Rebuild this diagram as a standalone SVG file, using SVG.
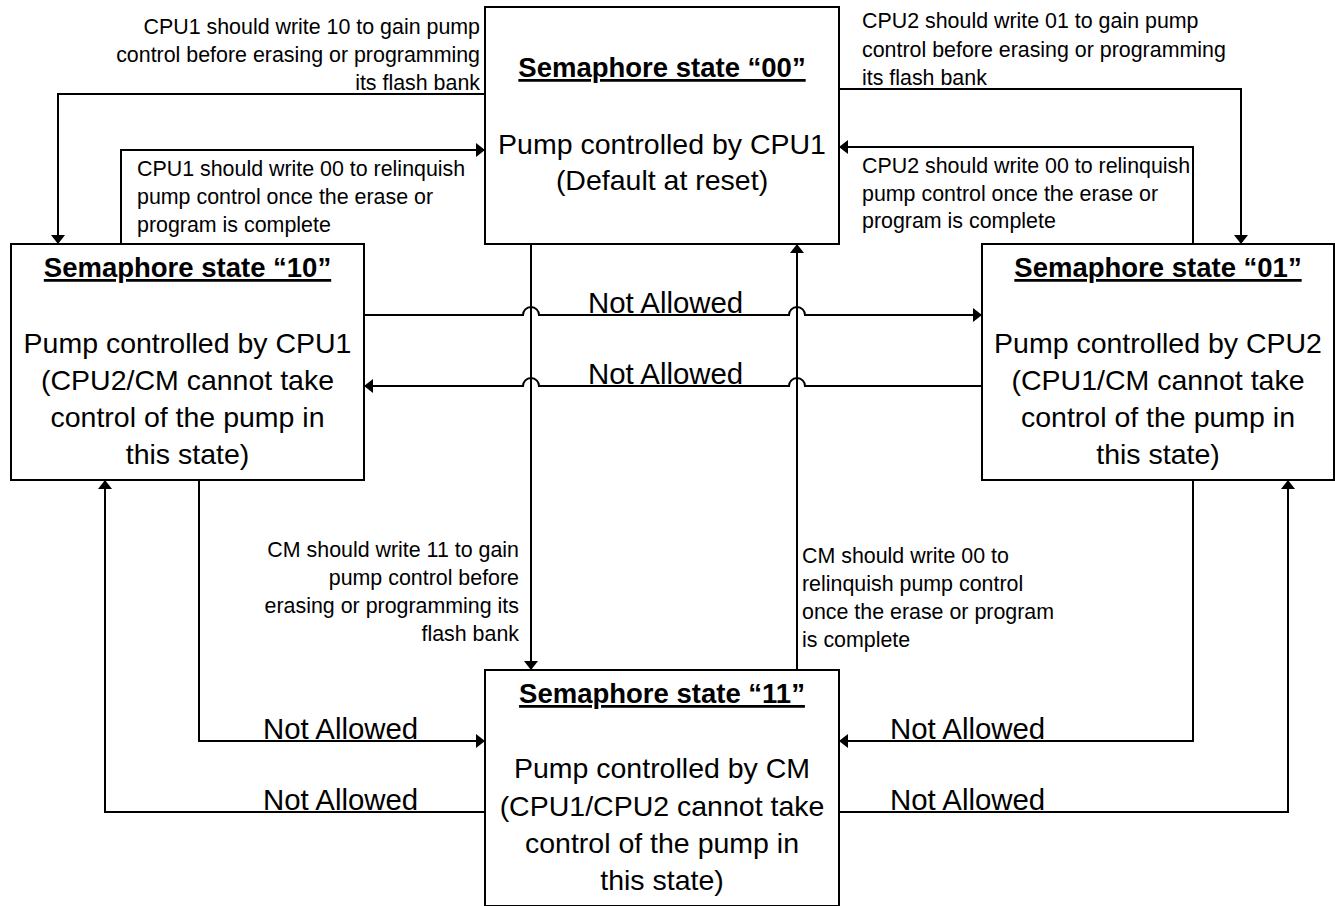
<svg xmlns="http://www.w3.org/2000/svg" width="1335" height="906" viewBox="0 0 1335 906">
<defs>
<style>
.box{fill:#fff;stroke:#000;stroke-width:2}
.c{fill:none;stroke:#000;stroke-width:2}
.h{font-family:"Liberation Sans",Arial,sans-serif;font-weight:bold;font-size:27.5px;text-anchor:middle;text-decoration:underline;fill:#000}
.b{font-family:"Liberation Sans",Arial,sans-serif;font-size:28.5px;text-anchor:middle;fill:#000}
.s{font-family:"Liberation Sans",Arial,sans-serif;font-size:21.4px;fill:#000}
.na{font-family:"Liberation Sans",Arial,sans-serif;font-size:29.4px;fill:#000}
.r{text-anchor:end}
</style>
<marker id="arr" viewBox="0 0 9 14" refX="9" refY="7" markerWidth="9" markerHeight="14" orient="auto" markerUnits="userSpaceOnUse"><path d="M0,0 L9,7 L0,14 z" fill="#000"/></marker>
</defs>
<g id="connectors">
<path class="c" d="M485,94 H58 V244" marker-end="url(#arr)"/>
<path class="c" d="M121,244 V150 H485" marker-end="url(#arr)"/>
<path class="c" d="M839,89 H1241 V244" marker-end="url(#arr)"/>
<path class="c" d="M1193,244 V147 H839" marker-end="url(#arr)"/>
<path class="c" d="M364,315 H523 A8,8 0 0 1 539,315 H789 A8,8 0 0 1 805,315 H982" marker-end="url(#arr)"/>
<path class="c" d="M982,386 H805 A8,8 0 0 0 789,386 H539 A8,8 0 0 0 523,386 H364" marker-end="url(#arr)"/>
<path class="c" d="M531,244 V670" marker-end="url(#arr)"/>
<path class="c" d="M797,670 V244" marker-end="url(#arr)"/>
<path class="c" d="M199,480 V741 H485" marker-end="url(#arr)"/>
<path class="c" d="M485,812 H105 V480" marker-end="url(#arr)"/>
<path class="c" d="M1193,480 V741 H839" marker-end="url(#arr)"/>
<path class="c" d="M839,812 H1288 V480" marker-end="url(#arr)"/>
<text class="s r" x="480"><tspan x="480" y="34">CPU1 should write 10 to gain pump</tspan><tspan x="480" y="62">control before erasing or programming</tspan><tspan x="480" y="90">its flash bank</tspan></text>
<text class="s" x="137"><tspan x="137" y="176">CPU1 should write 00 to relinquish</tspan><tspan x="137" y="204">pump control once the erase or</tspan><tspan x="137" y="232">program is complete</tspan></text>
<text class="s" x="862"><tspan x="862" y="28">CPU2 should write 01 to gain pump</tspan><tspan x="862" y="57">control before erasing or programming</tspan><tspan x="862" y="85">its flash bank</tspan></text>
<text class="s" x="862"><tspan x="862" y="173">CPU2 should write 00 to relinquish</tspan><tspan x="862" y="201">pump control once the erase or</tspan><tspan x="862" y="228">program is complete</tspan></text>
<text class="s r" x="519"><tspan x="519" y="557">CM should write 11 to gain</tspan><tspan x="519" y="585">pump control before</tspan><tspan x="519" y="613">erasing or programming its</tspan><tspan x="519" y="641">flash bank</tspan></text>
<text class="s" x="802"><tspan x="802" y="563">CM should write 00 to</tspan><tspan x="802" y="591">relinquish pump control</tspan><tspan x="802" y="619">once the erase or program</tspan><tspan x="802" y="647">is complete</tspan></text>
<text class="na" x="588" y="313">Not Allowed</text>
<text class="na" x="588" y="384">Not Allowed</text>
<text class="na" x="263" y="739">Not Allowed</text>
<text class="na" x="263" y="810">Not Allowed</text>
<text class="na" x="890" y="739">Not Allowed</text>
<text class="na" x="890" y="810">Not Allowed</text>
</g>
<g id="state00">
<rect class="box" x="485" y="7" width="354" height="237"/>
<text class="h" x="662" y="77">Semaphore state “00”</text>
<text class="b" x="662" y="154">Pump controlled by CPU1</text>
<text class="b" x="662" y="190">(Default at reset)</text>
</g>
<g id="state10">
<rect class="box" x="11" y="244" width="353" height="236"/>
<text class="h" x="187.5" y="277">Semaphore state “10”</text>
<text class="b" x="187.5" y="353">Pump controlled by CPU1</text>
<text class="b" x="187.5" y="390">(CPU2/CM cannot take</text>
<text class="b" x="187.5" y="427">control of the pump in</text>
<text class="b" x="187.5" y="464">this state)</text>
</g>
<g id="state01">
<rect class="box" x="982" y="244" width="352" height="236"/>
<text class="h" x="1158" y="277">Semaphore state “01”</text>
<text class="b" x="1158" y="353">Pump controlled by CPU2</text>
<text class="b" x="1158" y="390">(CPU1/CM cannot take</text>
<text class="b" x="1158" y="427">control of the pump in</text>
<text class="b" x="1158" y="464">this state)</text>
</g>
<g id="state11">
<rect class="box" x="485" y="670" width="354" height="236"/>
<text class="h" x="662" y="703">Semaphore state “11”</text>
<text class="b" x="662" y="778">Pump controlled by CM</text>
<text class="b" x="662" y="816">(CPU1/CPU2 cannot take</text>
<text class="b" x="662" y="853">control of the pump in</text>
<text class="b" x="662" y="890">this state)</text>
</g>
</svg>
